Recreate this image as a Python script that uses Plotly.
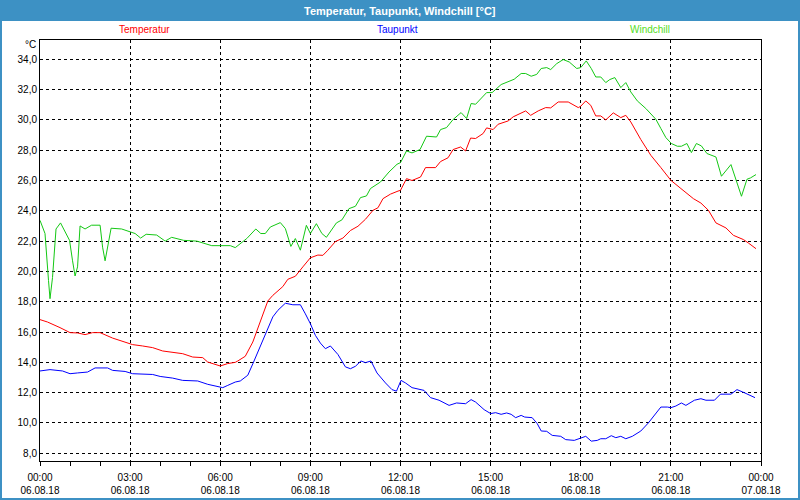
import pandas as pd
import plotly.graph_objects as go

DAY = "2018-08-06 "

# Temperatur (red)
temp_t = ["00:00","00:15","00:40","01:00","01:15","01:30","01:45","02:00","02:25","02:45",
          "03:05","03:25","03:45","04:05","04:25","04:45","05:05","05:25","05:35","05:50",
          "06:00","06:15","06:30","06:35","06:50","07:05","07:20","07:35","07:45","08:05",
          "08:15","08:30","08:45","09:00","09:15","09:25","09:35","09:50","10:05","10:20",
          "10:35","10:50","11:05","11:15","11:25","11:40","11:55","12:00","12:12","12:23",
          "12:40","12:50","13:10","13:20","13:35","13:45","14:00","14:10","14:20","14:30",
          "14:45","14:52","15:05","15:15","15:35","15:45","16:10","16:20","16:35","16:50",
          "17:00","17:15","17:35","17:55","18:00","18:10","18:20","18:30","18:40","18:50",
          "19:05","19:20","19:30","19:40","20:00","20:20","20:40","21:00","21:20","21:45",
          "22:00","22:15","22:30","22:50","23:05","23:25","23:35","23:50"]
temp_v = [16.82,16.66,16.29,15.96,15.94,15.83,15.96,15.96,15.60,15.40,
          15.17,15.08,14.97,14.75,14.64,14.57,14.35,14.31,14.02,13.85,
          13.76,13.92,14.00,14.09,14.40,15.34,16.73,18.05,18.42,19.00,
          19.48,19.68,20.30,20.90,21.08,21.06,21.40,21.97,22.20,22.70,
          22.98,23.44,24.03,24.20,24.80,25.10,25.30,25.35,26.12,26.00,
          26.23,26.85,26.85,27.25,27.50,28.04,28.21,27.95,28.80,28.77,
          29.10,29.47,29.36,29.71,29.93,30.20,30.59,30.30,30.59,30.81,
          30.79,31.18,31.18,30.81,30.90,31.25,30.96,30.26,30.26,30.00,
          30.46,30.15,30.30,29.86,28.70,27.66,26.85,26.01,25.47,24.80,
          24.51,24.03,23.20,22.87,22.38,22.10,21.87,21.50]

# Taupunkt (blue)
dew_t = ["00:00","00:20","00:45","01:00","01:15","01:35","01:50","02:15","02:25","02:50",
         "03:05","03:45","04:00","04:25","04:45","05:15","05:35","05:55","06:05","06:15",
         "06:30","06:40","06:55","07:05","07:20","07:35","07:45","07:55","08:10","08:25",
         "08:40","08:50","09:00","09:10","09:20","09:30","09:40","09:55","10:10","10:20",
         "10:30","10:41","10:50","11:01","11:13","11:30","11:43","11:52","12:01","12:10",
         "12:23","12:47","13:00","13:17","13:37","13:52","14:10","14:21","14:30","14:47",
         "15:00","15:10","15:21","15:32","15:41","15:50","16:01","16:08","16:23","16:33",
         "16:41","16:52","17:03","17:20","17:30","17:47","18:01","18:10","18:21","18:33",
         "18:40","18:50","19:01","19:10","19:20","19:30","19:43","20:00","20:15","20:30",
         "20:40","20:53","21:00","21:10","21:21","21:30","21:47","22:00","22:10","22:27",
         "22:39","23:00","23:12","23:23","23:37","23:48"]
dew_v = [13.43,13.52,13.43,13.25,13.30,13.36,13.63,13.63,13.47,13.40,
         13.25,13.20,13.07,12.96,12.81,12.77,12.55,12.42,12.33,12.48,
         12.70,12.77,13.15,13.90,15.10,16.23,17.00,17.43,17.90,17.80,
         17.80,17.20,16.55,15.78,15.27,14.90,15.08,14.52,13.70,13.58,
         13.74,14.09,13.98,14.09,13.30,12.64,12.20,12.10,12.81,12.64,
         12.33,12.15,11.67,11.50,11.16,11.32,11.27,11.54,11.38,10.88,
         10.62,10.68,10.57,10.66,10.57,10.35,10.50,10.39,10.35,9.96,
         9.47,9.45,9.18,9.12,8.90,8.85,9.03,9.12,8.80,8.85,
         8.96,8.96,9.16,9.03,9.12,8.96,9.12,9.47,10.00,10.62,
         11.05,11.05,11.01,11.12,11.32,11.16,11.50,11.60,11.50,11.50,
         11.90,11.90,12.20,12.05,11.82,11.67]

# Windchill (green)
wc_t = ["00:00","00:10","00:17","00:20","00:25","00:32","00:41","00:59","01:05","01:10",
        "01:15","01:20","01:30","01:43","02:00","02:05","02:10","02:15","02:22","02:43",
        "03:00","03:10","03:21","03:32","03:53","04:10","04:23","04:47","05:13","05:23",
        "05:43","06:00","06:20","06:30","06:43","06:53","07:11","07:21","07:30","07:40",
        "08:00","08:10","08:21","08:30","08:40","08:52","09:00","09:12","09:23","09:32",
        "09:52","10:03","10:17","10:30","10:40","10:52","11:00","11:20","11:37","11:53",
        "12:00","12:12","12:23","12:39","12:52","13:12","13:20","13:32","13:45","14:01",
        "14:12","14:21","14:30","14:52","15:03","15:21","15:47","16:01","16:10","16:21",
        "16:32","16:41","16:52","17:00","17:12","17:25","17:37","17:52","18:00","18:11",
        "18:21","18:30","18:40","18:50","18:58","19:08","19:20","19:30","19:40","19:53",
        "20:10","20:30","20:40","20:50","21:01","21:13","21:21","21:32","21:41","21:51",
        "22:01","22:12","22:30","22:41","23:00","23:21","23:32","23:39","23:50"]
wc_v = [23.37,22.50,19.40,18.20,19.60,22.80,23.20,22.05,20.70,19.70,
        20.30,23.00,22.80,23.05,23.05,21.60,20.70,21.70,22.85,22.80,
        22.60,22.50,22.20,22.45,22.40,22.00,22.25,22.05,22.00,21.90,
        21.70,21.70,21.70,21.57,21.94,22.17,22.80,22.50,22.50,22.93,
        23.22,22.83,21.65,22.17,21.40,23.04,22.50,23.15,22.50,22.25,
        23.20,23.40,24.14,24.30,24.87,24.98,25.47,25.90,26.56,27.07,
        27.18,27.95,27.82,28.04,28.92,28.87,29.36,29.49,30.02,30.48,
        30.09,31.08,31.03,31.80,31.80,32.33,32.68,33.06,33.06,32.88,
        33.00,33.39,33.45,33.32,33.71,33.98,33.82,33.39,33.45,33.89,
        33.39,32.83,32.83,32.46,32.66,32.79,32.13,32.46,31.84,31.25,
        30.75,30.04,29.43,28.83,28.44,28.26,28.26,28.44,27.84,28.44,
        28.28,27.78,27.55,26.28,27.05,24.96,26.08,26.17,26.39]

tick_hours = ["00:00","03:00","06:00","09:00","12:00","15:00","18:00","21:00","00:00"]
tick_dates = ["06.08.18"] * 8 + ["07.08.18"]
series_names = ["Temperatur", "Taupunkt", "Windchill"]
title_text = "Temperatur, Taupunkt, Windchill [°C]"

def to_dt(ts):
    return pd.to_datetime([DAY + t for t in ts])

tickvals = pd.date_range("2018-08-06 00:00", "2018-08-07 00:00", freq="3h")
minorvals = pd.date_range("2018-08-06 00:00", "2018-08-07 00:00", freq="1h")
ticktext = [f"{h}<br>{d}" for h, d in zip(tick_hours, tick_dates)]

RED, BLUE, GREEN = "#ff0000", "#0000ff", "#14c814"
BAR = "#3d91c4"
FONT = "Liberation Sans"

fig = go.Figure()
fig.add_trace(go.Scatter(x=to_dt(temp_t), y=temp_v, mode="lines", line=dict(color=RED, width=1), name=series_names[0]))
fig.add_trace(go.Scatter(x=to_dt(dew_t), y=dew_v, mode="lines", line=dict(color=BLUE, width=1), name=series_names[1]))
fig.add_trace(go.Scatter(x=to_dt(wc_t), y=wc_v, mode="lines", line=dict(color=GREEN, width=1), name=series_names[2]))

L, R, T, B = 40, 39, 40, 39
PW, PH = 800 - L - R, 500 - T - B

def px(x):
    return (x - L) / PW

def py(y):
    return (500 - B - y) / PH

shapes = [
    dict(type="rect", xref="paper", yref="paper", x0=px(0), x1=px(800), y0=py(21), y1=py(0),
         fillcolor=BAR, line=dict(width=0), layer="below"),
    dict(type="rect", xref="paper", yref="paper", x0=px(1), x1=px(799), y0=py(499), y1=py(1),
         fillcolor="rgba(0,0,0,0)", line=dict(color=BAR, width=2)),
]

annotations = [
    dict(text=title_text, xref="paper", yref="paper", x=px(400), y=py(10.5), showarrow=False,
         xanchor="center", yanchor="middle", font=dict(family=FONT, size=11, color="white", weight="bold")),
    dict(text=series_names[0], xref="paper", yref="paper", x=px(144), y=py(30), showarrow=False,
         xanchor="center", yanchor="middle", font=dict(family=FONT, size=10, color=RED)),
    dict(text=series_names[1], xref="paper", yref="paper", x=px(397), y=py(30), showarrow=False,
         xanchor="center", yanchor="middle", font=dict(family=FONT, size=10, color=BLUE)),
    dict(text=series_names[2], xref="paper", yref="paper", x=px(650), y=py(30), showarrow=False,
         xanchor="center", yanchor="middle", font=dict(family=FONT, size=10, color="#55dd22")),
    dict(text="°C", xref="paper", yref="paper", x=px(38), y=py(44.5), showarrow=False,
         xanchor="right", yanchor="middle", font=dict(family=FONT, size=10, color="black")),
]

fig.update_layout(
    width=800, height=500,
    margin=dict(l=L, r=R, t=T, b=B, pad=0, autoexpand=False),
    paper_bgcolor="white", plot_bgcolor="white",
    showlegend=False,
    separators=",.",
    font=dict(family=FONT, size=10, color="black"),
    shapes=shapes, annotations=annotations,
    xaxis=dict(
        range=[tickvals[0], tickvals[-1]], automargin=False,
        tickmode="array", tickvals=tickvals, ticktext=ticktext,
        ticks="outside", ticklen=4, tickcolor="black", tickwidth=1,
        ticklabelstandoff=3,
        minor=dict(tickmode="array", tickvals=minorvals, ticks="outside", ticklen=4,
                   tickcolor="black", showgrid=False),
        showgrid=True, gridcolor="black", griddash="3px,3px", gridwidth=1,
        showline=True, linecolor="black", linewidth=1, mirror=True,
        zeroline=False, tickfont=dict(family=FONT, size=10, color="black"),
    ),
    yaxis=dict(
        range=[7.49, 35.27], tick0=0, dtick=2, tickformat=".1f", automargin=False,
        ticks="", showgrid=True, gridcolor="black", griddash="3px,3px", gridwidth=1,
        showline=True, linecolor="black", linewidth=1, mirror=True,
        zeroline=False, tickfont=dict(family=FONT, size=10, color="black"),
    ),
)

fig.write_html("out.html")
